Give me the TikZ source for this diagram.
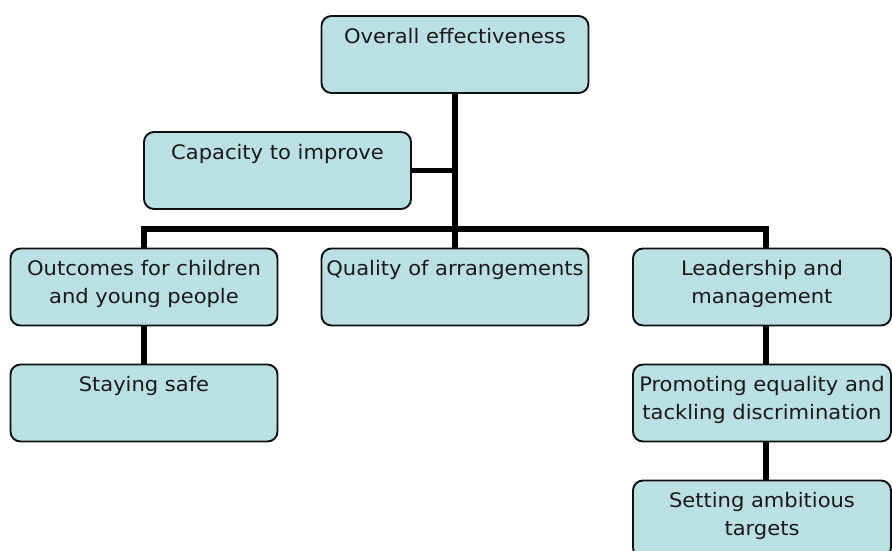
\documentclass[tikz,border=0pt]{standalone}
\usepackage{fontspec}
\setmainfont{DejaVu Sans Condensed}[FakeStretch=1.17]
\usetikzlibrary{backgrounds}
\definecolor{boxfill}{RGB}{186,224,227}
\definecolor{boxline}{RGB}{15,15,15}
\begin{document}
\begin{tikzpicture}[x=1pt,y=-1pt,
  box/.style={draw=boxline, line width=1.9pt, fill=boxfill, rounded corners=10pt,
    minimum width=267pt, minimum height=77pt, inner sep=0pt},
  lbl/.style={anchor=north, inner sep=0pt, align=center, text=black!90,
    font=\fontsize{20}{28}\selectfont, yshift=-13pt},
  conn/.style={line width=5.5pt, draw=black, line join=miter}]
\useasboundingbox (0,0) rectangle (892,550);
\clip (0,0) rectangle (892,550);
\node[box, label={[lbl]north:Overall effectiveness}] (oe) at (455,54.5) {};
\node[box, label={[lbl]north:Capacity to improve}] (cap) at (277.5,170.5) {};
\node[box, label={[lbl]north:Outcomes for children\\and young people}] (out) at (144,287) {};
\node[box, label={[lbl]north:Quality of arrangements}] (qual) at (455,287) {};
\node[box, minimum width=258pt, label={[lbl]north:Leadership and\\management}] (lead) at (762,287) {};
\node[box, label={[lbl]north:Staying safe}] (ss) at (144,403) {};
\node[box, minimum width=258pt, label={[lbl]north:Promoting equality and\\tackling discrimination}] (prom) at (762,403) {};
\node[box, minimum width=258pt, label={[lbl]north:Setting ambitious\\targets}] (set) at (762,519) {};
\coordinate (j) at (455,229);
\coordinate (br) at (766,229);
\begin{scope}[on background layer]
\draw[conn] (oe.south) -- (j);
\draw[conn] (cap.east) -- (cap.east -| j);
\draw[conn] (out.north) -- (out.north |- j) -- (br) -- (br |- lead.north);
\draw[conn] (j) -- (qual.north);
\draw[conn] (out.south) -- (ss.north);
\draw[conn] (lead.south -| br) -- (prom.north -| br);
\draw[conn] (prom.south -| br) -- (set.north -| br);
\end{scope}
\end{tikzpicture}
\end{document}
